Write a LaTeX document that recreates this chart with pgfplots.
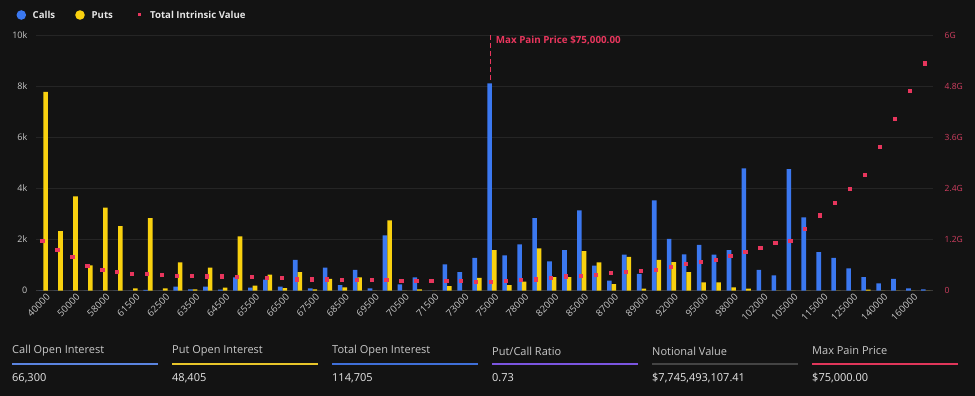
\documentclass[border=0pt]{standalone}
\usepackage{fontspec}
\setmainfont{Open Sans}
\usepackage{pgfplots}
\usepackage{pgfplotstable}
\pgfplotsset{compat=1.18}
\definecolor{bg}{HTML}{131313}
\definecolor{gridc}{HTML}{252525}
\definecolor{basec}{HTML}{3A3A3A}
\definecolor{callc}{HTML}{3B78F0}
\definecolor{putc}{HTML}{F9D10F}
\definecolor{tivc}{HTML}{E8365D}
\definecolor{rtick}{HTML}{D03E60}
\definecolor{ltick}{HTML}{C8C8C8}
\definecolor{txt}{HTML}{E6E6E6}
\definecolor{l1}{HTML}{5B84E0}
\definecolor{l2}{HTML}{E8C52A}
\definecolor{l3}{HTML}{3F6FD8}
\definecolor{l4}{HTML}{7B55E0}
\definecolor{l5}{HTML}{444444}
\definecolor{l6}{HTML}{E0365A}

\pgfplotstableread{
idx call put tiv
0 0 7780 1.17
1 0 2330 0.97
2 0 3690 0.79
3 0 990 0.59
4 0 3250 0.50
5 0 2530 0.44
6 0 90 0.40
7 30 2840 0.40
8 0 90 0.375
9 160 1110 0.36
10 50 50 0.36
11 160 900 0.34
12 40 120 0.34
13 520 2120 0.32
14 120 200 0.32
15 430 630 0.31
16 160 100 0.31
17 1210 730 0.27
18 90 50 0.27
19 900 460 0.27
20 220 130 0.26
21 810 520 0.26
22 90 0 0.26
23 2160 2750 0.26
24 250 0 0.23
25 520 50 0.23
26 0 0 0.23
27 1030 180 0.23
28 730 0 0.23
29 1280 500 0.21
30 8110 1590 0.21
31 1380 220 0.23
32 1810 350 0.26
33 2840 1660 0.27
34 1150 530 0.31
35 1590 530 0.34
36 3140 1550 0.36
37 980 1110 0.375
38 390 260 0.42
39 1410 1320 0.45
40 660 80 0.47
41 3530 1210 0.50
42 2030 1120 0.56
43 1420 730 0.64
44 1790 330 0.68
45 1410 330 0.73
46 1590 130 0.82
47 4780 80 0.91
48 810 0 1.01
49 600 0 1.13
50 4750 0 1.18
51 2870 0 1.46
52 1510 0 1.77
53 1280 0 2.07
54 870 0 2.40
55 530 40 2.73
56 290 0 3.38
57 460 0 4.04
58 90 0 4.69
59 50 0 5.34
}\data

\newcommand{\statcol}[4]{%
  \node[anchor=west, inner sep=0, font=\fontsize{11}{13}\selectfont, text=ltick] at (#1pt,45pt) {#2};
  \draw[#4, line width=1.2pt] (#1pt,32pt) -- ++(146pt,0pt);
  \node[anchor=west, inner sep=0, font=\fontsize{11}{13}\selectfont, text=txt] at (#1pt,18pt) {#3};
}

\begin{document}
\begin{tikzpicture}
\useasboundingbox (0pt,0pt) rectangle (975pt,396pt);
\fill[bg] (0pt,0pt) rectangle (975pt,396pt);
% legend
\fill[callc] (21.3pt,381pt) circle (4.8pt);
\node[anchor=west,inner sep=0,font=\bfseries\fontsize{9.6}{11}\selectfont,text=txt] at (32.5pt,381pt) {Calls};
\fill[putc] (80pt,381pt) circle (4.8pt);
\node[anchor=west,inner sep=0,font=\bfseries\fontsize{9.6}{11}\selectfont,text=txt] at (91.5pt,381pt) {Puts};
\fill[tivc] (137.5pt,379.5pt) rectangle (140.5pt,382.5pt);
\node[anchor=west,inner sep=0,font=\bfseries\fontsize{9.6}{11}\selectfont,text=txt] at (150pt,381pt) {Total Intrinsic Value};

\begin{axis}[
  at={(35.8pt,105.3pt)}, anchor=south west,
  width=897.4pt, height=255.7pt, scale only axis,
  xmin=-0.5, xmax=59.5, ymin=0, ymax=10000,
  scaled y ticks=false,
  axis line style={draw=none},
  major tick length=0pt,
  ytick={0,2000,4000,6000,8000,10000},
  yticklabels={0,2k,4k,6k,8k,10k},
  ymajorgrids, grid style={gridc, line width=0.6pt},
  xtick={0,2,...,58},
  xticklabels={40000,50000,58000,61500,62500,63500,64500,65500,66500,67500,68500,69500,70500,71500,73000,75000,78000,82000,85000,87000,89000,92000,95000,98000,102000,105000,115000,125000,140000,160000},
  x tick label style={rotate=45, anchor=north east, font=\fontsize{9.5}{11}\selectfont, text=ltick, xshift=3.5pt, yshift=0pt},
  y tick label style={font=\fontsize{9}{10}\selectfont, text=ltick},
  yticklabel style={xshift=-5pt},
  /pgf/number format/assume math mode=true,
  clip=false,
]
\draw[basec, line width=0.8pt] (axis cs:-0.5,0) -- (axis cs:59.5,0);
\addplot[ybar, bar width=4.6pt, bar shift=-2.3pt, fill=callc, draw=none] table[x=idx,y=call] {\data};
\addplot[ybar, bar width=4.6pt, bar shift=2.3pt, fill=putc, draw=none] table[x=idx,y=put] {\data};
\draw[tivc, dash pattern=on 5pt off 3pt, line width=0.9pt] (axis cs:29.93,10000) -- (axis cs:29.93,8150);
\node[anchor=west, inner sep=0, font=\bfseries\fontsize{9.8}{11}\selectfont, text=tivc] at (axis cs:30.25,9800) {Max Pain Price \$75,000.00};
\end{axis}

\begin{axis}[
  at={(35.8pt,105.3pt)}, anchor=south west,
  width=897.4pt, height=255.7pt, scale only axis,
  xmin=-0.5, xmax=59.5, ymin=0, ymax=6,
  axis line style={draw=none},
  axis x line=none,
  axis y line*=right,
  major tick length=0pt,
  ytick={0,1.2,2.4,3.6,4.8,6},
  yticklabels={0,1.2G,2.4G,3.6G,4.8G,6G},
  yticklabel style={font=\fontsize{8.5}{10}\selectfont, text=rtick, anchor=west, xshift=8pt},
  /pgf/number format/assume math mode=true,
  clip=false,
]
\addplot[only marks, color=tivc, mark=square*, mark size=1.6pt, xshift=-1pt] table[x=idx,y=tiv] {\data};
\end{axis}

% bottom panel
\statcol{12}{Call Open Interest}{66,300}{l1}
\statcol{172}{Put Open Interest}{48,405}{l2}
\statcol{332}{Total Open Interest}{114,705}{l3}
\statcol{492}{Put/Call Ratio}{0.73}{l4}
\statcol{652}{Notional Value}{\$7,745,493,107.41}{l5}
\statcol{812}{Max Pain Price}{\$75,000.00}{l6}
\end{tikzpicture}
\end{document}
